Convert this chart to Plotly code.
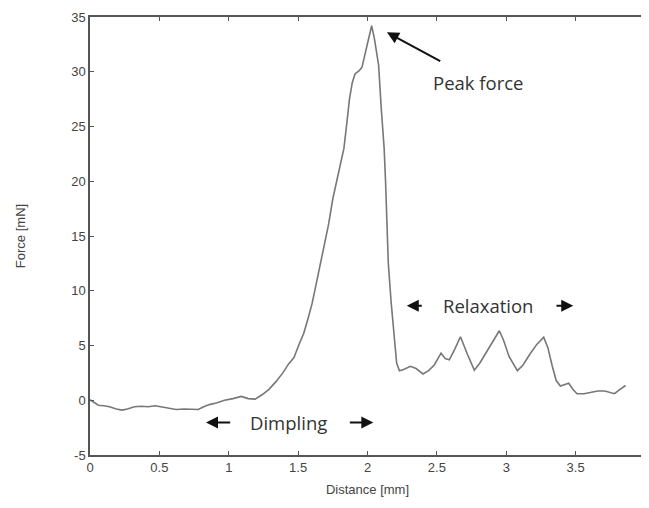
import plotly.graph_objects as go

# Force-distance curve
distance_mm = [
    0.00, 0.03, 0.06, 0.10, 0.14, 0.19, 0.23, 0.27, 0.32, 0.37, 0.42, 0.47, 0.52,
    0.57, 0.62, 0.68, 0.73, 0.78, 0.82, 0.86, 0.91, 0.97, 1.03, 1.09, 1.14, 1.19,
    1.24, 1.29, 1.34, 1.39, 1.43, 1.47, 1.51, 1.54, 1.57, 1.60, 1.63, 1.66, 1.69,
    1.72, 1.75, 1.78, 1.81, 1.83, 1.85, 1.87, 1.89, 1.91, 1.94, 1.96, 1.98, 2.01,
    2.03, 2.05, 2.08, 2.10, 2.12, 2.13, 2.15, 2.17, 2.19, 2.20, 2.21, 2.23, 2.26,
    2.31, 2.35, 2.40, 2.44, 2.48, 2.53, 2.56, 2.59, 2.63, 2.67, 2.72, 2.77, 2.81,
    2.86, 2.91, 2.95, 2.98, 3.02, 3.08, 3.12, 3.17, 3.22, 3.27, 3.30, 3.33, 3.36,
    3.39, 3.42, 3.45, 3.48, 3.51, 3.56, 3.61, 3.66, 3.71, 3.75, 3.78, 3.82, 3.86,
]
force_mN = [
    0.05, -0.2, -0.45, -0.5, -0.6, -0.8, -0.9, -0.8, -0.6, -0.55, -0.6, -0.5, -0.6,
    -0.75, -0.85, -0.8, -0.85, -0.85, -0.6, -0.4, -0.25, 0.0, 0.15, 0.35, 0.15, 0.1,
    0.5, 1.0, 1.7, 2.5, 3.3, 3.9, 5.2, 6.1, 7.4, 8.8, 10.6, 12.4, 14.3,
    16.1, 18.4, 20.2, 21.8, 23.0, 25.2, 27.5, 29.0, 29.8, 30.1, 30.4, 31.5, 33.3,
    34.2, 33.0, 30.6, 26.5, 23.0, 20.0, 12.5, 9.0, 6.2, 4.5, 3.4, 2.7, 2.8,
    3.1, 2.9, 2.4, 2.7, 3.2, 4.3, 3.8, 3.7, 4.7, 5.8, 4.2, 2.75, 3.4,
    4.5, 5.5, 6.35, 5.5, 4.0, 2.7, 3.2, 4.2, 5.1, 5.75, 4.8, 3.2, 1.8,
    1.3, 1.4, 1.55, 1.0, 0.6, 0.6, 0.75, 0.85, 0.85, 0.7, 0.6, 1.0, 1.35,
]

x_ticks = [0, 0.5, 1, 1.5, 2, 2.5, 3, 3.5, 4]
x_tick_labels = ["0", "0.5", "1", "1.5", "2", "2.5", "3", "3.5", "4"]
y_ticks = [-5, 0, 5, 10, 15, 20, 25, 30, 35]
y_tick_labels = ["-5", "0", "5", "10", "15", "20", "25", "30", "35"]

# annotation labels and their anchor points (data units)
peak_label = "Peak force"
peak_tip = (2.14, 33.6)
peak_tail = (2.535, 30.9)
peak_text_pos = (2.80, 29.05)

dimpling_label = "Dimpling"
dimpling_y = -2.03
dimpling_text_x = 1.433
dimpling_left = (1.021, 0.836)   # tail, tip
dimpling_right = (1.862, 2.042)

relax_label = "Relaxation"
relax_y = 8.64
relax_text_x = 2.865
relax_left = (2.402, 2.283)
relax_right = (3.351, 3.483)

AX = "#555555"
TXT = "#444444"
FONT = "Liberation Sans"
ANN_FONT = "Open Sans"

fig = go.Figure()
fig.add_trace(go.Scatter(
    x=distance_mm, y=force_mN, mode="lines",
    line=dict(color="#777777", width=1.6),
    showlegend=False, hoverinfo="skip",
))

def arrow(tail_x, tail_y, tip_x, tip_y):
    fig.add_annotation(
        x=tip_x, y=tip_y, ax=tail_x, ay=tail_y,
        xref="x", yref="y", axref="x", ayref="y",
        text="", showarrow=True, arrowhead=2, arrowsize=1.2,
        arrowwidth=2, arrowcolor="#111111",
    )

arrow(peak_tail[0], peak_tail[1], peak_tip[0], peak_tip[1])
arrow(dimpling_left[0], dimpling_y, dimpling_left[1], dimpling_y)
arrow(dimpling_right[0], dimpling_y, dimpling_right[1], dimpling_y)
arrow(relax_left[0], relax_y, relax_left[1], relax_y)
arrow(relax_right[0], relax_y, relax_right[1], relax_y)

for label, (tx, ty) in [
    (peak_label, peak_text_pos),
    (dimpling_label, (dimpling_text_x, dimpling_y)),
    (relax_label, (relax_text_x, relax_y)),
]:
    fig.add_annotation(
        x=tx, y=ty, xref="x", yref="y", text=label, showarrow=False,
        font=dict(family=ANN_FONT, size=18.5, color="#333333"),
        xanchor="center", yanchor="middle",
    )

axis_common = dict(
    showline=True, linecolor=AX, linewidth=1.5, mirror="ticks",
    ticks="inside", ticklen=4, tickwidth=1, tickcolor=AX,
    showgrid=False, zeroline=False, automargin=False,
    tickfont=dict(family=FONT, size=13, color=TXT),
)

fig.update_xaxes(
    range=[0, 4], tickvals=x_ticks, ticktext=x_tick_labels,
    ticklabeloverflow="allow",
    title=dict(text="Distance [mm]", font=dict(family=FONT, size=13, color=TXT), standoff=11),
    **axis_common,
)
fig.update_yaxes(
    range=[-5, 35], tickvals=y_ticks, ticktext=y_tick_labels,
    title=dict(text="Force [mN]", font=dict(family=FONT, size=13, color=TXT), standoff=43),
    **axis_common,
)

# The page body adds an 8px offset, so the figure is sized to fill the rest of the window.
fig.update_layout(
    width=641, height=500,
    margin=dict(l=82, r=4, t=9, b=53),
    paper_bgcolor="white", plot_bgcolor="white",
)

fig.write_html("out.html")
